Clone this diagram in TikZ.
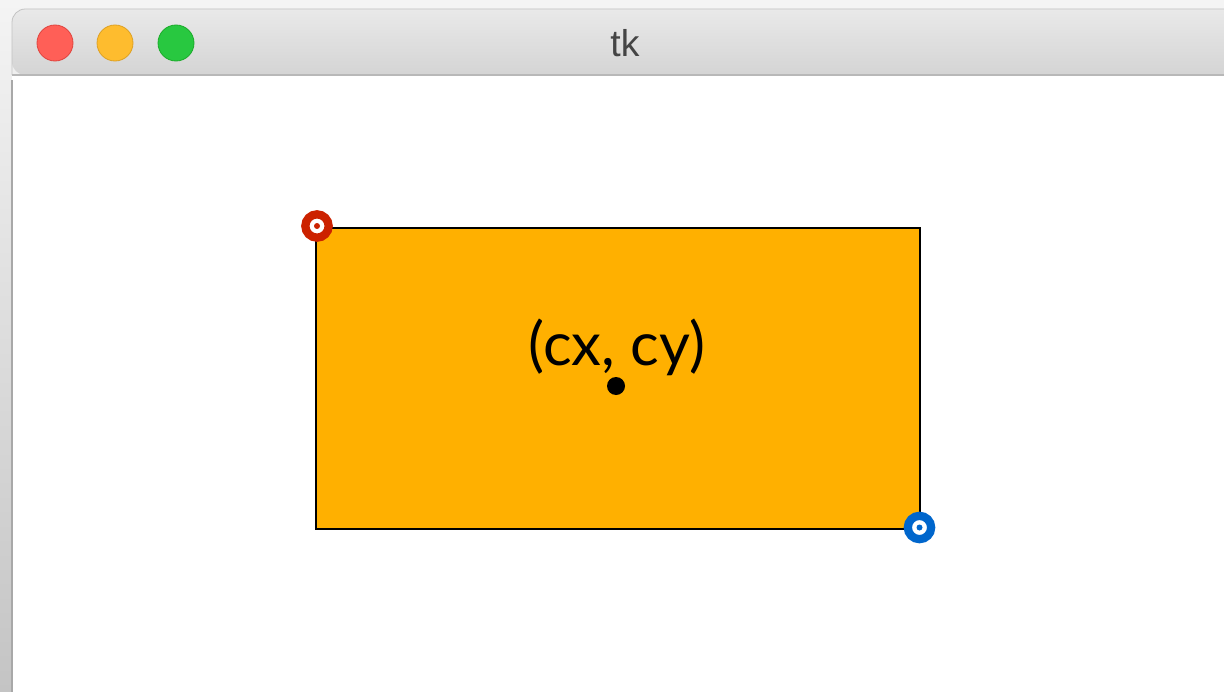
\documentclass[tikz,border=0pt]{standalone}
\usepackage{fontspec}
\setmainfont{Lato}
\newfontfamily\titlefont{Liberation Sans}
\begin{document}
\begin{tikzpicture}[x=0.75pt,y=-0.75pt]
\definecolor{bgtop}{HTML}{F4F4F4}
\definecolor{bgbot}{HTML}{C4C4C4}
\definecolor{bartop}{HTML}{E9E9E9}
\definecolor{barbot}{HTML}{D4D4D4}
\definecolor{barline}{HTML}{B8B8B8}
\definecolor{winedge}{HTML}{A8A8A8}
\definecolor{tlred}{HTML}{FF5F57}
\definecolor{tlredb}{HTML}{E0443E}
\definecolor{tlyel}{HTML}{FEBC2E}
\definecolor{tlyelb}{HTML}{DEA123}
\definecolor{tlgrn}{HTML}{28C840}
\definecolor{tlgrnb}{HTML}{1AAB29}
\definecolor{boxfill}{HTML}{FFB000}
\definecolor{ringred}{HTML}{CC2200}
\definecolor{ringblue}{HTML}{0066CC}
\definecolor{titlegray}{HTML}{444444}
\tikzset{
  light/.style={circle, minimum size=27pt, inner sep=0pt, line width=0.6pt},
  ring/.style={circle, minimum size=17.5pt, inner sep=0pt, line width=6.2pt, draw=#1, fill=white},
  dotc/.style={circle, minimum size=4.5pt, inner sep=0pt, fill=#1},
}
\useasboundingbox (0,0) rectangle (1224,692);
% background
\shade[top color=bgtop, bottom color=bgbot] (0,0) rectangle (1224,692);
% window
\fill[white] (12,75) rectangle (1230,700);
\draw[winedge, line width=0.8pt] (12,80) -- (12,700);
\shade[top color=bartop, bottom color=barbot, rounded corners=10]
  (12,75) -- (12,9) -- (1240,9) -- (1240,75) -- cycle;
\draw[winedge!70, line width=0.6pt, rounded corners=10] (12,75) -- (12,9) -- (1240,9);
\draw[barline, line width=1.2pt] (12,75) -- (1224,75);
% traffic lights
\node[light, fill=tlred, draw=tlredb] (red) at (55,43) {};
\node[light, fill=tlyel, draw=tlyelb] (yellow) at (115,43) {};
\node[light, fill=tlgrn, draw=tlgrnb] (green) at (176,43) {};
\node[text=titlegray, font=\titlefont\fontsize{28}{32}\selectfont] (title) at (625,43) {tk};
% rectangle
\node[draw=black, fill=boxfill, line width=2.1pt, minimum width=453pt, minimum height=225.75pt, inner sep=0pt] (box) at (618,378.5) {};
% label and centre
\node[font=\fontsize{45}{50}\selectfont] (label) at (617,347) {(cx, cy)};
\node[circle, fill=black, minimum size=13.5pt, inner sep=0pt] (center) at (616,386) {};
% corner handles
\node[ring=ringred] (p1) at (317,226) {};
\node[dotc=ringred] at (p1) {};
\node[ring=ringblue] (p2) at (919.5,527.5) {};
\node[dotc=ringblue] at (p2) {};
\end{tikzpicture}
\end{document}
